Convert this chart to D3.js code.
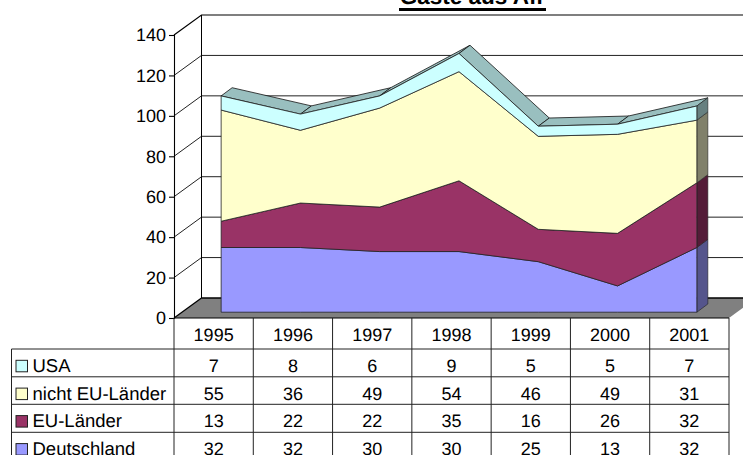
<!DOCTYPE html>
<html><head><meta charset="utf-8">
<script src="https://cdnjs.cloudflare.com/ajax/libs/d3/7.8.5/d3.min.js"></script>
<style>html,body{margin:0;padding:0;background:#fff;overflow:hidden}svg{display:block}text{font-family:"Liberation Sans",Arial,sans-serif;fill:#000;text-rendering:geometricPrecision}</style>
</head><body><svg id="c" width="743" height="455"></svg>
<script>
const years=[1995,1996,1997,1998,1999,2000,2001];
const usa=[7,8,6,9,5,5,7];
const nichtEU=[55,36,49,54,46,49,31];
const eu=[13,22,22,35,16,26,32];
const deutschland=[32,32,30,30,25,13,32];
const yTicks=[0,20,40,60,80,100,120,140];
const seriesNames=["Deutschland","EU-Länder","nicht EU-Länder","USA"];
const seriesValues=[deutschland,eu,nichtEU,usa];
const seriesColors=["#9999ff","#993366","#ffffcc","#ccffff"];
const titleText="Gäste aus Afr";

const svg=d3.select("#c");
const x=d3.scaleBand().domain(years).range([174,729]);
const cx=d=>x(d)+x.bandwidth()/2;
const y=d3.scaleLinear().domain([0,140]).range([318,35]);
const wall={dx:27.5,dy:-20}, front={dx:7.5,dy:-5.8}, back={dx:18.5,dy:-14};
const W=743;
const table=years.map((yr,i)=>{const o={yr};seriesNames.forEach((n,k)=>o[n]=seriesValues[k][i]);return o;});
const stacked=d3.stack().keys(seriesNames)(table);

// walls
svg.append("path").attr("d",`M174,${y(140)}L${174+wall.dx},${y(140)+wall.dy}H${W}`).attr("fill","none").attr("stroke","#000").attr("stroke-width",1.2);
svg.append("polygon").attr("points",[[174,y(0)],[729,y(0)],[729+wall.dx,y(0)+wall.dy],[174+wall.dx,y(0)+wall.dy]].join(" ")).attr("fill","#808080");
svg.append("g").selectAll("path").data(yTicks.filter(t=>t>0&&t<140)).join("path")
 .attr("d",t=>`M174,${y(t)}L${174+wall.dx},${y(t)+wall.dy}H${W}`).attr("fill","none").attr("stroke","#222").attr("stroke-width",1);
svg.append("line").attr("x1",174+wall.dx).attr("x2",W).attr("y1",y(0)+wall.dy).attr("y2",y(0)+wall.dy).attr("stroke","#000").attr("stroke-width",1.6);
svg.append("path").attr("d",`M174,${y(0)}L${174+wall.dx},${y(0)+wall.dy}`).attr("stroke","#000").attr("stroke-width",1.2);
svg.append("line").attr("x1",174+wall.dx).attr("x2",174+wall.dx).attr("y1",y(140)+wall.dy).attr("y2",y(0)+wall.dy).attr("stroke","#000");

// 3D area
const px=d=>cx(d.data.yr);
const topSeries=stacked[stacked.length-1];
const g=svg.append("g");
// top facets of the uppermost series
g.selectAll(".top").data(d3.pairs(topSeries)).join("polygon").attr("class","top")
 .attr("points",([a,b])=>[[px(a)+front.dx,y(a[1])+front.dy],[px(b)+front.dx,y(b[1])+front.dy],[px(b)+back.dx,y(b[1])+back.dy],[px(a)+back.dx,y(a[1])+back.dy]].join(" "))
 .attr("fill","#99bfbf").attr("stroke","#111").attr("stroke-width",.8);
// right side faces
const darker=["#55558c","#541c38","#80806a","#678080"];
const lastI=years.length-1;
g.selectAll(".side").data(stacked).join("polygon").attr("class","side")
 .attr("points",s=>{const d=s[lastI],X=px(d);return [[X+front.dx,y(d[0])+front.dy],[X+front.dx,y(d[1])+front.dy],[X+back.dx,y(d[1])+back.dy],[X+back.dx,y(d[0])+back.dy]].join(" ");})
 .attr("fill",(s,i)=>darker[i]).attr("stroke","#222").attr("stroke-width",.6);
// front faces
const area=d3.area().x(d=>px(d)+front.dx).y0(d=>y(d[0])+front.dy).y1(d=>y(d[1])+front.dy);
g.selectAll(".face").data(stacked).join("path").attr("class","face")
 .attr("d",area).attr("fill",(s,i)=>seriesColors[i]).attr("stroke","#222").attr("stroke-width",.8);

// y axis
const axis=d3.axisLeft(y).tickValues(yTicks).tickSize(5).tickPadding(3);
const ag=svg.append("g").attr("transform","translate(174,0)").call(axis);
ag.selectAll("path,line").attr("stroke","#000").attr("stroke-width",1.1);
ag.selectAll("text").attr("font-size",18).attr("font-family",'"Liberation Sans",Arial,sans-serif');

// title, clipped by the top edge as in the reference, with its underline below
svg.append("text").attr("x",472.5).attr("y",4).attr("text-anchor","middle").attr("font-size",22.5).attr("font-weight","bold").text(titleText);
svg.append("line").attr("x1",399).attr("x2",546).attr("y1",9.5).attr("y2",9.5).attr("stroke","#000").attr("stroke-width",3);

// data table
const rowTop=[318,349,376.8,404.3,432.3,460];
const tg=svg.append("g");
rowTop.forEach((t,i)=>{ if(i===0||i>4) return;
 tg.append("line").attr("x1",11.5).attr("x2",729).attr("y1",t).attr("y2",t).attr("stroke","#222");});
tg.append("line").attr("x1",174).attr("x2",729).attr("y1",318).attr("y2",318).attr("stroke","#000").attr("stroke-width",1.2);
tg.append("line").attr("x1",11.5).attr("x2",11.5).attr("y1",349).attr("y2",455).attr("stroke","#222");
[...years.map(d=>x(d)),729].forEach(v=>tg.append("line").attr("x1",v).attr("x2",v).attr("y1",318).attr("y2",455).attr("stroke","#222"));
tg.selectAll(".yr").data(years).join("text").attr("class","yr").attr("x",cx).attr("y",340.5).attr("text-anchor","middle").attr("font-size",18).text(d=>d);
const rows=["USA","nicht EU-Länder","EU-Länder","Deutschland"];
rows.forEach((n,r)=>{
 const k=seriesNames.indexOf(n), base=rowTop[r+1]+22.8;
 tg.append("rect").attr("x",16).attr("y",base-11.5).attr("width",11.5).attr("height",11.5).attr("fill",seriesColors[k]).attr("stroke","#222").attr("stroke-width",1);
 tg.append("text").attr("x",32.5).attr("y",base).attr("font-size",18.5).text(n);
 tg.selectAll(null).data(seriesValues[k]).join("text").attr("x",(d,i)=>cx(years[i])).attr("y",base).attr("text-anchor","middle").attr("font-size",18).text(d=>d);
});
</script></body></html>
